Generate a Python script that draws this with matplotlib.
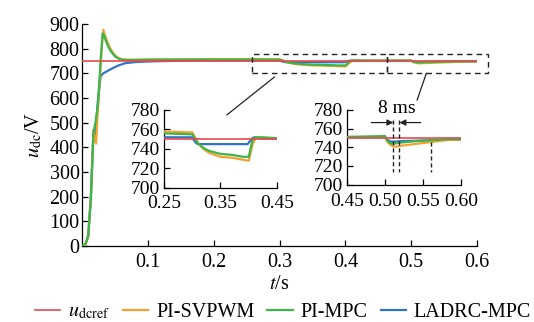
import matplotlib
matplotlib.use("Agg")
import matplotlib.pyplot as plt
from matplotlib.patches import Rectangle

plt.rcParams['font.family'] = ['Liberation Serif', 'DejaVu Serif']
plt.rcParams['mathtext.fontset'] = 'stix'
FS = 14.5
FS_IN = 14
plt.rcParams['font.size'] = FS

# ---------------- data ----------------
ref_t = [0.0, 0.6]
ref_v = [750, 750]

svpwm_t = [0, 0.004, 0.009, 0.013, 0.017, 0.019, 0.021, 0.023, 0.027, 0.030, 0.032, 0.035,
           0.040, 0.045, 0.050, 0.055, 0.060, 0.070, 0.080, 0.100, 0.150, 0.200, 0.250,
           0.300, 0.305, 0.310, 0.320, 0.330, 0.340, 0.350, 0.370, 0.390, 0.400, 0.403,
           0.407, 0.412, 0.420, 0.450, 0.500, 0.503, 0.508, 0.513, 0.520, 0.540, 0.560,
           0.580, 0.600]
svpwm_v = [0, 0, 40, 190, 470, 430, 415, 520, 690, 820, 876, 850,
           815, 790, 772, 762, 757, 755, 755, 756, 757, 758, 758,
           757, 752, 746, 740, 736, 734, 732, 731, 729, 728, 735,
           745, 751, 752, 751, 751, 746, 742, 740.5, 741.5, 743.5, 745.5,
           747.5, 748.5]

mpc_t = [0, 0.005, 0.009, 0.013, 0.017, 0.020, 0.024, 0.028, 0.031, 0.033, 0.036, 0.040,
         0.045, 0.050, 0.055, 0.060, 0.070, 0.100, 0.200, 0.250, 0.300, 0.305, 0.310,
         0.320, 0.330, 0.350, 0.370, 0.390, 0.400, 0.403, 0.407, 0.412, 0.420, 0.450,
         0.500, 0.503, 0.508, 0.513, 0.520, 0.540, 0.560, 0.580, 0.600]
mpc_v = [0, 10, 40, 190, 460, 500, 580, 760, 862, 855, 830, 805,
         783, 768, 760, 755, 754, 755, 756, 756, 755, 751, 746,
         741, 738, 735, 734, 732, 732, 740, 750, 752, 752, 751,
         752, 747, 744, 744, 745, 746.5, 747.5, 748.5, 749]

ladrc_t = [0, 0.004, 0.009, 0.013, 0.017, 0.020, 0.024, 0.028, 0.032, 0.040, 0.047, 0.055,
           0.065, 0.078, 0.090, 0.110, 0.130, 0.200, 0.250, 0.300, 0.303, 0.307, 0.310,
           0.350, 0.398, 0.402, 0.406, 0.410, 0.420, 0.450, 0.500, 0.503, 0.508, 0.513,
           0.520, 0.540, 0.560, 0.580, 0.600]
ladrc_v = [0, 0, 40, 200, 470, 450, 600, 690, 700, 712, 722, 732,
           741, 745, 747, 749, 750, 752, 752, 752, 749, 746, 745,
           745, 745, 748, 751, 752, 751, 751, 751, 748, 746, 746,
           746.5, 747, 747.5, 748, 748]

labels = [r'$u_{\mathrm{dcref}}$', 'PI-SVPWM', 'PI-MPC', 'LADRC-MPC']
main_xticks = [0.1, 0.2, 0.3, 0.4, 0.5, 0.6]
main_yticks = [0, 100, 200, 300, 400, 500, 600, 700, 800, 900]
in1_xticks = [0.25, 0.35, 0.45]
in2_xticks = [0.45, 0.50, 0.55, 0.60]
in_yticks = [700, 720, 740, 760, 780]

c_ref = '#e8474f'
c_sv = '#f6a12f'
c_mpc = '#3cb54b'
c_ld = '#2f73c4'

# ---------------- figure ----------------
W, H = 534, 322
fig = plt.figure(figsize=(W / 100, H / 100), dpi=100)

def frac(l, t, r, b):
    return [l / W, 1 - b / H, (r - l) / W, (b - t) / H]

def draw_series(ax, lw=1.6):
    h4, = ax.plot(ladrc_t, ladrc_v, color=c_ld, lw=lw, zorder=3)
    h2, = ax.plot(svpwm_t, svpwm_v, color=c_sv, lw=lw, zorder=4)
    h3, = ax.plot(mpc_t, mpc_v, color=c_mpc, lw=lw, zorder=5)
    h1, = ax.plot(ref_t, ref_v, color=c_ref, lw=1.2, zorder=6)
    return [h1, h2, h3, h4]

def style(ax, xpad=1.5, fs=FS, ypad=2):
    for s in ['top', 'right']:
        ax.spines[s].set_visible(False)
    ax.tick_params(direction='in', length=4, width=0.9, labelsize=fs, pad=ypad)
    ax.tick_params(axis='x', pad=xpad)
    for s in ['left', 'bottom']:
        ax.spines[s].set_linewidth(0.9)

ax = fig.add_axes(frac(82.3, 24, 477, 246))
handles = draw_series(ax)
ax.set_xlim(0, 0.6)
ax.set_ylim(0, 900)
ax.set_xticks(main_xticks)
ax.set_xticklabels([f'{v:g}' for v in main_xticks])
ax.set_yticks(main_yticks)
style(ax, xpad=5)
ax.set_xlabel(r'$t$/s', fontsize=FS, labelpad=2)
ax.set_ylabel(r'$u_{\mathrm{dc}}$/V', fontsize=FS, labelpad=4)

# dashed zoom rectangles
for x0, x1 in [(0.258, 0.463), (0.463, 0.617)]:
    ax.add_patch(Rectangle((x0, 701), x1 - x0, 77, fill=False, ls=(0, (4, 3)),
                           lw=1.0, ec='#222222', clip_on=False, zorder=7))
ax.plot([0.292, 0.220], [685, 532], color='#222222', lw=0.9, clip_on=False)
ax.plot([0.523, 0.509], [700, 592], color='#222222', lw=0.9, clip_on=False)

# inset 1
a1 = fig.add_axes(frac(164, 110, 277, 188))
draw_series(a1)
a1.set_xlim(0.25, 0.45)
a1.set_ylim(700, 780)
a1.set_xticks(in1_xticks)
a1.set_xticklabels([f'{v:.2f}' for v in in1_xticks])
a1.set_yticks(in_yticks)
style(a1, xpad=5, fs=FS_IN, ypad=3)
a1.patch.set_alpha(0)

# inset 2
a2 = fig.add_axes(frac(347, 110, 461, 184.5))
draw_series(a2)
a2.set_xlim(0.45, 0.60)
a2.set_ylim(700, 780)
a2.set_xticks(in2_xticks)
a2.set_xticklabels([f'{v:.2f}' for v in in2_xticks])
a2.set_yticks(in_yticks)
style(a2, xpad=6, fs=FS_IN, ypad=3)
a2.patch.set_alpha(0)
for xv, y0 in [(0.511, 769), (0.519, 769), (0.561, 746)]:
    a2.plot([xv, xv], [y0, 713], color='#222222', lw=1.0, ls=(0, (3, 2)), zorder=8)
a2.annotate('', xy=(0.511, 766.5), xytext=(0.482, 766.5),
            arrowprops=dict(arrowstyle='-|>', color='#222222', lw=0.9,
                            mutation_scale=9, shrinkA=0, shrinkB=0), annotation_clip=False)
a2.annotate('', xy=(0.519, 766.5), xytext=(0.547, 766.5),
            arrowprops=dict(arrowstyle='-|>', color='#222222', lw=0.9,
                            mutation_scale=9, shrinkA=0, shrinkB=0), annotation_clip=False)
a2.text(0.515, 782, '8 ms', ha='center', va='center', fontsize=FS_IN, clip_on=False)

fig.legend(handles, labels, loc='center', bbox_to_anchor=(283 / W, 1 - 312 / H),
           ncol=4, frameon=False, fontsize=FS, handlelength=1.25, handletextpad=0.4,
           columnspacing=0.65, borderpad=0, borderaxespad=0)

fig.savefig('out.png', dpi=100)
